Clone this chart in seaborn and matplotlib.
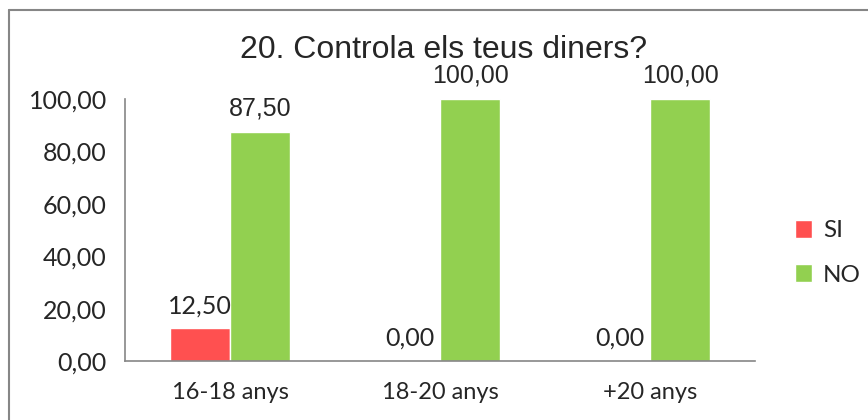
import pandas as pd
import seaborn as sns
import matplotlib.pyplot as plt
from matplotlib.ticker import FuncFormatter, FixedLocator
from matplotlib.lines import Line2D

# Data
categories = ['16-18 anys', '18-20 anys', '+20 anys']
si_values = [12.5, 0.0, 0.0]
no_values = [87.5, 100.0, 100.0]
series = ['SI', 'NO']
colors = ['#FF5050', '#92D050']

df = pd.DataFrame({
    'grup': categories * 2,
    'resposta': ['SI'] * len(categories) + ['NO'] * len(categories),
    'valor': si_values + no_values,
})

sns.set_style("white")
plt.rcParams['font.family'] = ['Lato', 'DejaVu Sans']

fig = plt.figure(figsize=(8.68, 4.2), dpi=100)
ax = fig.add_axes([125 / 868, 1 - 361 / 420, 630 / 868, 262 / 420])

sns.barplot(data=df, x='grup', y='valor', hue='resposta', hue_order=series,
            palette=colors, width=0.574, saturation=1, ax=ax, legend=True)

ax.set_xlim(-0.5, len(categories) - 0.5)
ax.set_ylim(0, 100)
ax.set_xlabel('')
ax.set_ylabel('')

def fmt(v):
    return f'{v:.2f}'.replace('.', ',')

ax.yaxis.set_major_formatter(FuncFormatter(lambda v, p: fmt(v)))
ax.set_yticks([0, 20, 40, 60, 80, 100])

# category ticks at the boundaries, labels at centres
ax.xaxis.set_major_locator(FixedLocator([i - 0.5 for i in range(len(categories) + 1)]))
ax.xaxis.set_major_formatter(FuncFormatter(lambda v, p: ''))
ax.xaxis.set_minor_locator(FixedLocator(list(range(len(categories)))))
ax.set_xticklabels(categories, minor=True)
ax.tick_params(axis='x', which='minor', length=0, pad=15, labelsize=17)
ax.tick_params(axis='x', which='major', length=8, width=1.2, color='#868686', direction='out')
ax.tick_params(axis='y', length=7, width=1.2, color='#868686', direction='out', pad=6, labelsize=18)

for side in ['top', 'right']:
    ax.spines[side].set_visible(False)
for side in ['left', 'bottom']:
    ax.spines[side].set_color('#868686')
    ax.spines[side].set_linewidth(1.2)

# value labels
for cont, vals, fam in zip(ax.containers, [si_values, no_values],
                           [['Lato'], ['Liberation Sans']]):
    ax.bar_label(cont, labels=[fmt(v) for v in vals], padding=8,
                 fontsize=18, family=fam)

leg = ax.legend(loc='center left', bbox_to_anchor=(1.048, 0.413), frameon=False,
                fontsize=17.5, handlelength=0.7, handleheight=0.75,
                labelspacing=0.95, handletextpad=0.45, borderaxespad=0)

fig.text(444 / 868, 1 - 50 / 420, '20. Controla els teus diners?', ha='center', va='center',
         fontsize=23, family=['Liberation Sans'])

# chart area border (left and top visible)
fig.add_artist(Line2D([8.5 / 868, 8.5 / 868], [0, 1 - 9.5 / 420], transform=fig.transFigure,
                      color='#868686', lw=1.5))
fig.add_artist(Line2D([8.5 / 868, 1], [1 - 9.5 / 420, 1 - 9.5 / 420], transform=fig.transFigure,
                      color='#868686', lw=1.5))

fig.savefig('out.png', dpi=100, facecolor='white')
